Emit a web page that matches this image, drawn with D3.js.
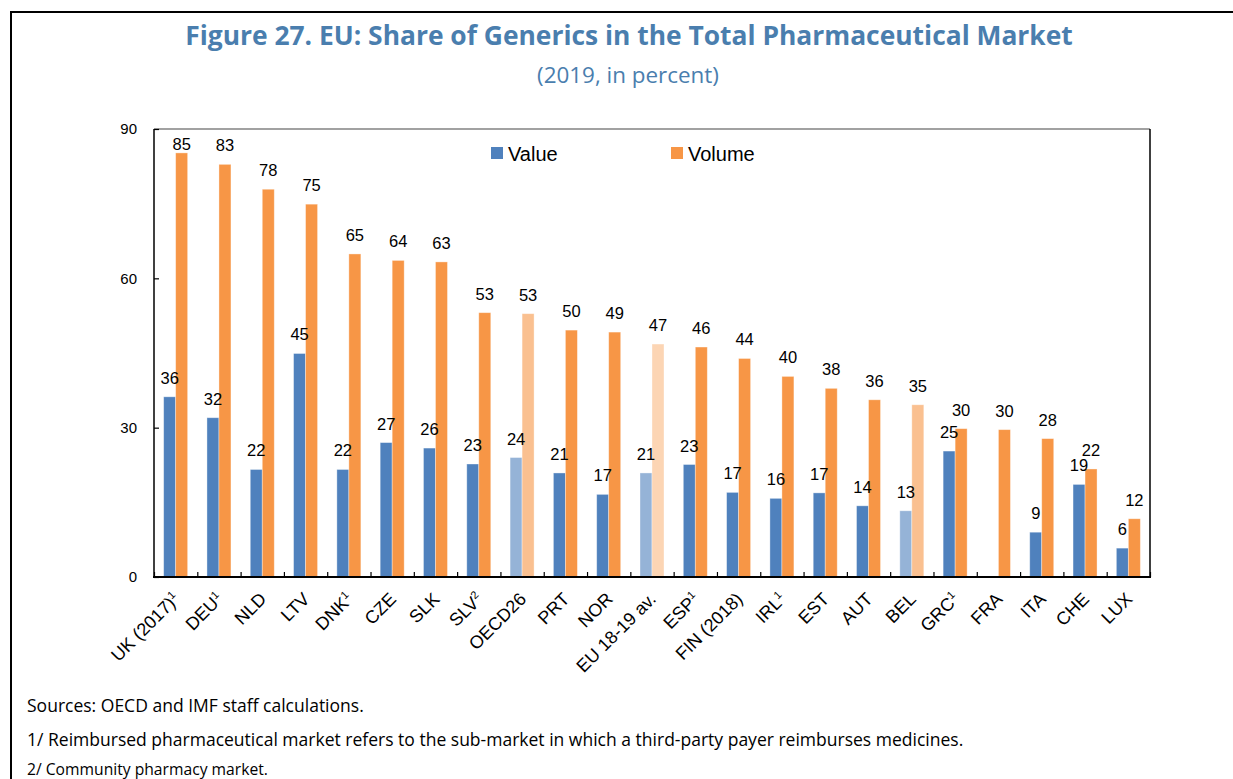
<!DOCTYPE html>
<html><head><meta charset="utf-8">
<script src="https://cdn.jsdelivr.net/npm/d3@7"></script>
<style>
html,body{margin:0;padding:0;background:#fff;}
svg{display:block;}
</style></head>
<body>
<script>
const categories = ["UK (2017)","DEU","NLD","LTV","DNK","CZE","SLK","SLV","OECD26","PRT","NOR","EU 18-19 av.","ESP","FIN (2018)","IRL","EST","AUT","BEL","GRC","FRA","ITA","CHE","LUX"];
const superscripts = ["1","1","","","1","","","2","","","","","1","","1","","","","1","","","",""];
const valueShare = [36.2,32.0,21.6,44.9,21.6,27.0,25.9,22.7,24.0,20.9,16.6,20.9,22.6,17.0,15.8,16.9,14.3,13.3,25.3,null,9.0,18.6,5.8];
const volumeShare = [85.2,82.9,77.9,74.9,64.9,63.6,63.3,53.1,52.9,49.6,49.2,46.8,46.2,43.9,40.3,37.9,35.6,34.6,29.8,29.6,27.8,21.7,11.7];
const yTicks = [0,30,60,90];
const seriesNames = ["Value","Volume"];
const titleText = "Figure 27. EU: Share of Generics in the Total Pharmaceutical Market";
const subtitleText = "(2019, in percent)";
const notes = ["Sources: OECD and IMF staff calculations.",
  "1/ Reimbursed pharmaceutical market refers to the sub-market in which a third-party payer reimburses medicines.",
  "2/ Community pharmacy market."];

// styles
const C = {value:"#4F81BD", volume:"#F79646", valueLight:"#95B3D7", volumeLight:"#FAC090", volumeLighter:"#FCD5B4", title:"#4A7EAE"};
const lightCats = {"OECD26":"light","BEL":"light","EU 18-19 av.":"lighter"};

const W=1233,H=779;
const svg=d3.select("body").append("svg").attr("width",W).attr("height",H);

// outer frame
svg.append("path").attr("d",`M11,${H+5} L11,12 L${W+5},12`).attr("fill","none").attr("stroke","#000").attr("stroke-width",2);

const L=154,R=1150,T=129,B=577;
const x=d3.scaleBand().domain(categories).range([L,R]).paddingInner(0).paddingOuter(0);
const y=d3.scaleLinear().domain([0,90]).range([B,T]);
const bw=x.bandwidth(), barW=12;

function fitText(sel,target){
  const w=sel.node().getComputedTextLength();
  const fs=parseFloat(sel.attr("font-size"));
  sel.attr("font-size",fs*target/w);
}
// title
const t=svg.append("text").attr("x",629).attr("y",45).attr("text-anchor","middle")
  .attr("font-family","'Open Sans','Noto Sans',sans-serif").attr("font-weight","bold")
  .attr("font-size",24).attr("fill",C.title).text(titleText);
fitText(t,888);
const st=svg.append("text").attr("x",628).attr("y",83).attr("text-anchor","middle")
  .attr("font-family","'Open Sans','Noto Sans',sans-serif")
  .attr("font-size",19).attr("fill",C.title).text(subtitleText);
fitText(st,182);

// bars
const g=svg.append("g");
categories.forEach((c,i)=>{
  const kind=lightCats[c];
  const vcol = kind ? C.valueLight : C.value;
  const ocol = kind==="lighter" ? C.volumeLighter : (kind ? C.volumeLight : C.volume);
  const cx=x(c)+bw/2;
  if(valueShare[i]!=null){
    g.append("rect").attr("x",cx-barW).attr("y",y(valueShare[i])).attr("width",barW)
      .attr("height",y(0)-y(valueShare[i])).attr("fill",vcol).attr("stroke","rgba(255,255,255,0.45)").attr("stroke-width",0.8);
  }
  g.append("rect").attr("x",cx).attr("y",y(volumeShare[i])).attr("width",barW)
    .attr("height",y(0)-y(volumeShare[i])).attr("fill",ocol).attr("stroke","rgba(255,255,255,0.45)").attr("stroke-width",0.8);
});

// labels
const lf="'Liberation Sans',Arial,sans-serif";
const fmt=d3.format(".0f");
categories.forEach((c,i)=>{
  const cx=x(c)+bw/2;
  if(valueShare[i]!=null){
    g.append("text").attr("x",cx-barW/2).attr("y",Math.max(y(valueShare[i])-13,150))
      .attr("text-anchor","middle").attr("font-family",lf).attr("font-size",16.5).attr("fill","#000")
      .text(fmt(valueShare[i]));
  }
  g.append("text").attr("x",cx+barW/2).attr("y",Math.max(y(volumeShare[i])-13,150))
    .attr("text-anchor","middle").attr("font-family",lf).attr("font-size",16.5).attr("fill","#000")
    .text(fmt(volumeShare[i]));
});

// plot frame
svg.append("line").attr("x1",L).attr("x2",R).attr("y1",T).attr("y2",T).attr("stroke","#444").attr("stroke-width",1.2);
svg.append("line").attr("x1",R).attr("x2",R).attr("y1",T).attr("y2",B).attr("stroke","#000").attr("stroke-width",1.5);

// y axis
const ya=svg.append("g").attr("transform",`translate(${L},0)`)
  .call(d3.axisLeft(y).tickValues(yTicks).tickSize(-5).tickPadding(17).tickFormat(d3.format("d")));
ya.select(".domain").attr("stroke","#000").attr("stroke-width",1.5).attr("d",`M0,${T}V${B}`);
ya.selectAll(".tick line").attr("stroke","#000").attr("stroke-width",1.2);
ya.selectAll(".tick text").attr("font-family",lf).attr("font-size",15).attr("fill","#000");

// x axis (tick marks at band boundaries)
const xb=d3.scaleLinear().domain([0,categories.length]).range([L,R]);
const xa=svg.append("g").attr("transform",`translate(0,${B})`)
  .call(d3.axisBottom(xb).tickValues(d3.range(0,categories.length+1)).tickSize(-5).tickFormat(""));
xa.select(".domain").attr("stroke","#000").attr("stroke-width",2).attr("d",`M${L-1},0H${R+1}`);
xa.selectAll(".tick line").attr("stroke","#000").attr("stroke-width",1.2);

// category labels
categories.forEach((c,i)=>{
  const cx=x(c)+bw/2;
  const tx=svg.append("text").attr("transform",`translate(${cx-4},${B+14}) rotate(-45)`)
    .attr("text-anchor","end").attr("dy","0.72em").attr("font-family",lf).attr("font-size",18).attr("fill","#000");
  tx.append("tspan").text(c);
  if(superscripts[i]) tx.append("tspan").attr("font-size",11).attr("dy","-0.6em").text(superscripts[i]);
});

// legend
const lg=svg.append("g");
[[C.value,491,508],[C.volume,671,688]].forEach((d,k)=>{
  lg.append("rect").attr("x",d[1]).attr("y",147).attr("width",12).attr("height",12).attr("fill",d[0]);
  lg.append("text").attr("x",d[2]).attr("y",161).attr("font-family",lf).attr("font-size",20).attr("fill","#000").text(seriesNames[k]);
});

// notes
const ny=[712,746,775];
const nw=[337,937,241];
notes.forEach((n,i)=>{
  const tn=svg.append("text").attr("x",27).attr("y",ny[i]).attr("font-family","'Open Sans','Noto Sans',sans-serif")
    .attr("font-size",15.5).attr("fill","#000").text(n);
  fitText(tn,nw[i]);
});
</script>
</body></html>
